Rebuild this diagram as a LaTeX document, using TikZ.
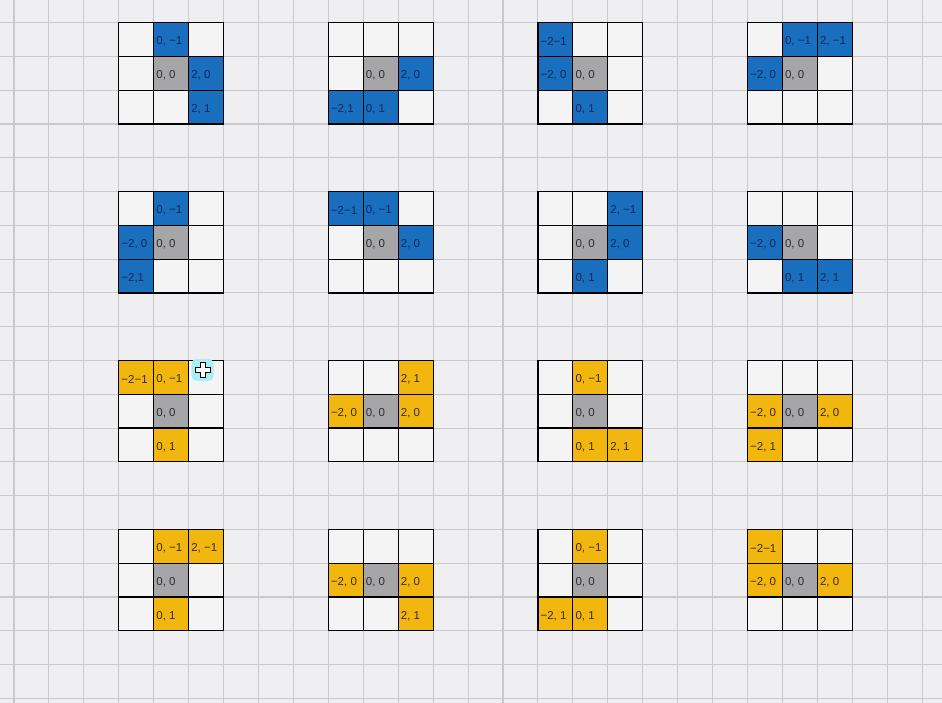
\documentclass[tikz,border=0pt]{standalone}
\usepackage{fontspec}
\setmainfont{Liberation Sans}
\definecolor{bgcol}{HTML}{EFEFF1}
\definecolor{gridcol}{HTML}{CACACC}
\definecolor{cellcol}{HTML}{F4F4F5}
\definecolor{tblue}{HTML}{196EBE}
\definecolor{tyellow}{HTML}{F2B70F}
\definecolor{tgray}{HTML}{A6A6A8}
\definecolor{navytext}{HTML}{0B2A5E}
\definecolor{browntext}{HTML}{3E2A00}
\definecolor{graytext}{HTML}{2E2E2E}
\definecolor{glowcol}{HTML}{A8EEF2}
\tikzset{
  lbl/.style={anchor=west, inner sep=0pt, font=\fontsize{11.5}{12}\selectfont},
  boxline/.style={black, line width=1.2pt},
  bgline/.style={gridcol, line width=1.1pt},
}
% #1,#2: top left cell, #3: fill, #4: text colour, #5: col/row/label
\newcommand{\piecebox}[5]{%
  \fill[cellcol] (#1,#2) rectangle ++(3,3);
  \foreach \c/\r/\t in {#5}{
    \fill[#3] (#1+\c,#2+\r) rectangle ++(1,1);
    \node[lbl, text=#4] (lab-#1-#2-\c-\r) at (#1+\c+0.07,#2+\r+0.56) {\t};
  }
  \fill[tgray] (#1+1,#2+1) rectangle ++(1,1);
  \node[lbl, text=graytext] (mid-#1-#2) at (#1+1.07,#2+1.56) {0, 0};
  \foreach \c in {0,1,2}
    \foreach \r in {0,1,2}
      \draw[boxline] (#1+\c,#2+\r) rectangle ++(1,1);
}
\begin{document}
\begin{tikzpicture}[x=34.93pt, y=-33.78pt]
    \useasboundingbox (-0.4008,-0.672) rectangle (26.568,20.139);
    \fill[bgcol] (-0.4008,-0.672) rectangle (26.568,20.139);
    \foreach \i in {0,...,26}
        \draw[bgline] (\i,-0.7) -- (\i,20.2);
    \foreach \j in {0,...,20}
        \draw[bgline] (-0.45,\j) -- (26.6,\j);

    % blue rows
    \piecebox{3}{0}{tblue}{navytext}{1/0/{0, −1}, 2/1/{2, 0}, 2/2/{2, 1}}
    \piecebox{9}{0}{tblue}{navytext}{2/1/{2, 0}, 0/2/{−2,1}, 1/2/{0, 1}}
    \piecebox{15}{0}{tblue}{navytext}{0/0/{−2−1}, 0/1/{−2, 0}, 1/2/{0, 1}}
    \piecebox{21}{0}{tblue}{navytext}{1/0/{0, −1}, 2/0/{2, −1}, 0/1/{−2, 0}}
    \piecebox{3}{5}{tblue}{navytext}{1/0/{0, −1}, 0/1/{−2, 0}, 0/2/{−2,1}}
    \piecebox{9}{5}{tblue}{navytext}{0/0/{−2−1}, 1/0/{0, −1}, 2/1/{2, 0}}
    \piecebox{15}{5}{tblue}{navytext}{2/0/{2, −1}, 2/1/{2, 0}, 1/2/{0, 1}}
    \piecebox{21}{5}{tblue}{navytext}{0/1/{−2, 0}, 1/2/{0, 1}, 2/2/{2, 1}}

    % yellow rows
    \piecebox{3}{10}{tyellow}{browntext}{0/0/{−2−1}, 1/0/{0, −1}, 1/2/{0, 1}}
    \piecebox{9}{10}{tyellow}{browntext}{2/0/{2, 1}, 0/1/{−2, 0}, 2/1/{2, 0}}
    \piecebox{15}{10}{tyellow}{browntext}{1/0/{0, −1}, 1/2/{0, 1}, 2/2/{2, 1}}
    \piecebox{21}{10}{tyellow}{browntext}{0/1/{−2, 0}, 2/1/{2, 0}, 0/2/{−2, 1}}
    \piecebox{3}{15}{tyellow}{browntext}{1/0/{0, −1}, 2/0/{2, −1}, 1/2/{0, 1}}
    \piecebox{9}{15}{tyellow}{browntext}{0/1/{−2, 0}, 2/1/{2, 0}, 2/2/{2, 1}}
    \piecebox{15}{15}{tyellow}{browntext}{1/0/{0, −1}, 0/2/{−2, 1}, 1/2/{0, 1}}
    \piecebox{21}{15}{tyellow}{browntext}{0/0/{−2−1}, 0/1/{−2, 0}, 2/1/{2, 0}}

    % mouse pointer
    \coordinate (cursor) at (5.40,10.28);
    \fill[glowcol, rounded corners=5pt] ([shift={(-11pt,-11pt)}]cursor) rectangle ([shift={(11pt,11pt)}]cursor);
    \draw[fill=white, line width=0.9pt] ([shift={(-2.5pt,7.5pt)}]cursor) -- ++(5pt,0) -- ++(0,-5pt) -- ++(5pt,0) -- ++(0,-5pt) -- ++(-5pt,0) -- ++(0,-5pt) -- ++(-5pt,0) -- ++(0,5pt) -- ++(-5pt,0) -- ++(0,5pt) -- ++(5pt,0) -- cycle;
\end{tikzpicture}
\end{document}
